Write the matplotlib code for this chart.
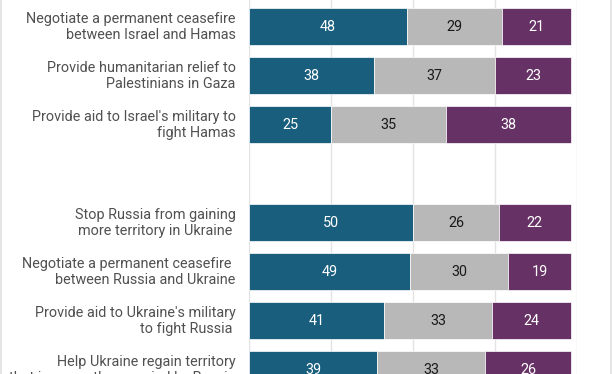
import matplotlib
matplotlib.use("Agg")
from matplotlib import pyplot as plt
from matplotlib.lines import Line2D

plt.rcParams['font.family'] = ['Roboto', 'DejaVu Sans']

# categories, top to bottom ('' = blank spacer row)
labels = [
    "Negotiate a permanent ceasefire\nbetween Israel and Hamas",
    "Provide humanitarian relief to\nPalestinians in Gaza",
    "Provide aid to Israel's military to\nfight Hamas",
    "",
    "Stop Russia from gaining\nmore territory in Ukraine ",
    "Negotiate a permanent ceasefire \nbetween Russia and Ukraine",
    "Provide aid to Ukraine's military\nto fight Russia ",
    "Help Ukraine regain territory\nthat is currently occupied by Russia",
]
first = [48, 38, 25, None, 50, 49, 41, 39]
middle = [29, 37, 35, None, 26, 30, 33, 33]
last = [21, 23, 38, None, 22, 19, 24, 26]

blue = "#195e7d"
grey = "#b8b8b8"
purple = "#663164"

fig = plt.figure(figsize=(6.12, 3.74), dpi=100)
ax = fig.add_axes([249.3/612, 0, 328/612, 1])

for i, lab in enumerate(labels):
    if first[i] is None:
        continue
    left = 0
    for val, col, tc in [(first[i], blue, "white"), (middle[i], grey, "#1a1a1a"), (last[i], purple, "white")]:
        ax.barh(i, val, left=left, height=0.76, color=col, edgecolor="white", linewidth=0.5, zorder=3)
        ax.text(left + val/2, i, str(val), ha="center", va="center", color=tc, fontsize=10.4, zorder=4)
        left += val
    ax.text(-4.2, i, lab, ha="right", va="center", color="#505050", fontsize=10.4, linespacing=1.15)

ax.set_xlim(0, 100)
ax.set_ylim(7.088, -0.545)
ax.set_xticks([0, 25, 50, 75, 100])
ax.set_yticks([])
ax.grid(axis="x", color="#e3e3e3", linewidth=1, zorder=0)
ax.tick_params(length=0, labelbottom=False)
for s in ax.spines.values():
    s.set_visible(False)

# card border edges
fig.add_artist(Line2D([0.0015, 0.0015], [0, 1], color="#e0e0e0", linewidth=1.2))
fig.add_artist(Line2D([0.9985, 0.9985], [0, 1], color="#e0e0e0", linewidth=1.2))

fig.savefig("out.png", dpi=100)
